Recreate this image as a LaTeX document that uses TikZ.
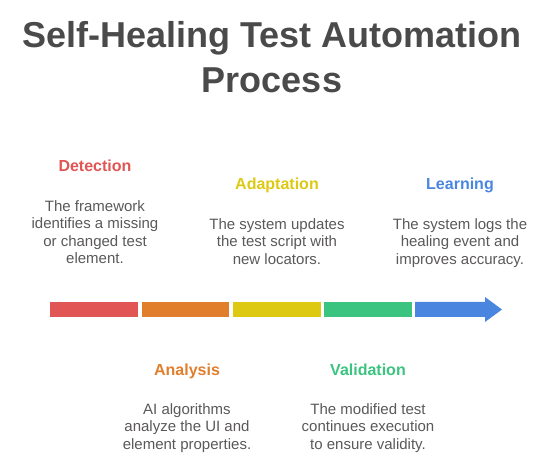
\documentclass[tikz,border=0pt]{standalone}
\usepackage{fontspec}
\setmainfont{Liberation Sans}

\definecolor{titlegray}{HTML}{4A4A4A}
\definecolor{bodygray}{HTML}{5A5858}
\definecolor{detred}{HTML}{E15554}
\definecolor{anaorange}{HTML}{E07E2C}
\definecolor{adayellow}{HTML}{DDC912}
\definecolor{valgreen}{HTML}{3BC47F}
\definecolor{learnblue}{HTML}{4A86E0}

\begin{document}
\begin{tikzpicture}[x=1pt,y=-1pt,
  titletext/.style={font=\fontsize{36}{45}\selectfont\bfseries,text=titlegray,anchor=base,inner sep=0pt},
  head/.style={font=\fontsize{16}{19}\selectfont\bfseries,anchor=base,inner sep=0pt},
  body/.style={font=\fontsize{15}{17.5}\selectfont,text=bodygray,align=center,anchor=north,inner sep=0pt}]

\useasboundingbox (0,0) rectangle (541,462);

% Titolo
\node[titletext] (title) at (272,48) {Self-Healing Test Automation};
\node[titletext] (title2) at (272,93) {Process};

% Barra a segmenti
\fill[detred] (50,302) rectangle (138,317);
\fill[anaorange] (142,302) rectangle (229,317);
\fill[adayellow] (233,302) rectangle (321,317);
\fill[valgreen] (324,302) rectangle (412,317);
\fill[learnblue] (415,302) -- (485,302) -- (485,297) -- (502,309.5)
  -- (485,322) -- (485,317) -- (415,317) -- cycle;

% Fasi sopra la barra
\node[head,text=detred] (det) at (95,172) {Detection};
\node[body] (detb) at (95,200) {The framework\\identifies a missing\\or changed test\\element.};

\node[head,text=adayellow] (ada) at (277,190) {Adaptation};
\node[body] (adab) at (277,218) {The system updates\\the test script with\\new locators.};

\node[head,text=learnblue] (lea) at (460,190) {Learning};
\node[body] (leab) at (460,218) {The system logs the\\healing event and\\improves accuracy.};

% Fasi sotto la barra
\node[head,text=anaorange] (ana) at (187,375) {Analysis};
\node[body] (anab) at (187,403) {AI algorithms\\analyze the UI and\\element properties.};

\node[head,text=valgreen] (val) at (368,375) {Validation};
\node[body] (valb) at (368,403) {The modified test\\continues execution\\to ensure validity.};

\end{tikzpicture}
\end{document}
